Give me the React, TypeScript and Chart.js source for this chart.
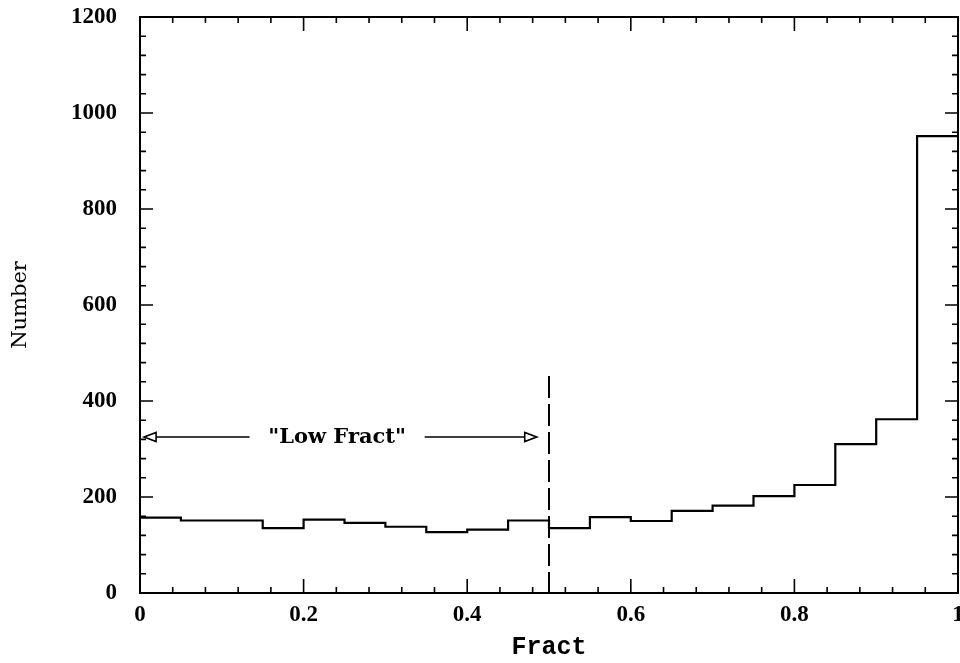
import React, { useEffect, useRef } from 'react';
import { Chart, registerables } from 'chart.js';

Chart.register(...registerables);

// ---- data ----
const binStarts = [0, 0.05, 0.1, 0.15, 0.2, 0.25, 0.3, 0.35, 0.4, 0.45, 0.5, 0.55, 0.6, 0.65, 0.7, 0.75, 0.8, 0.85, 0.9, 0.95];
const binEnd = 1;
const counts = [157, 151, 151, 135, 153, 146, 138, 127, 132, 151, 135, 158, 150, 171, 182, 202, 225, 310, 362, 952];

const xTickLabels = ['0', '0.2', '0.4', '0.6', '0.8', '1'];
const yTickLabels = ['0', '200', '400', '600', '800', '1000', '1200'];

// annotation: dashed cut and "Low Fract" arrow
const cutValue = 0.5;
const cutTop = 452;
const arrowLevel = 325;
const arrowFrom = 0.005;
const arrowTo = 0.485;
const gapFrom = 0.134;
const gapTo = 0.348;
const labelAt = 0.241;
const lowLabel = '"Low Fract"';

const xTitle = 'Fract';
const yTitle = 'Number';

const framePlugin = {
  id: 'frame',
  afterDatasetsDraw(chart: any) {
    const { ctx, chartArea: a, scales } = chart;
    const xs = scales.x;
    const ys = scales.y;
    ctx.save();
    ctx.strokeStyle = '#000';
    ctx.lineWidth = 2;
    ctx.strokeRect(a.left, a.top, a.right - a.left, a.bottom - a.top);
    ctx.lineWidth = 1.6;
    ctx.beginPath();
    xs.ticks.forEach((t: any) => {
      const px = xs.getPixelForValue(t.value);
      const major = t.label !== '';
      const len = major ? 14 : 6;
      ctx.moveTo(px, a.bottom);
      ctx.lineTo(px, a.bottom - len);
      ctx.moveTo(px, a.top);
      ctx.lineTo(px, a.top + len);
    });
    ys.ticks.forEach((t: any) => {
      const py = ys.getPixelForValue(t.value);
      const major = t.label !== '';
      const len = major ? 13 : 6;
      ctx.moveTo(a.left, py);
      ctx.lineTo(a.left + len, py);
      ctx.moveTo(a.right, py);
      ctx.lineTo(a.right - len, py);
    });
    ctx.stroke();

    // arrow annotation
    const y = ys.getPixelForValue(arrowLevel);
    const x0 = xs.getPixelForValue(arrowFrom);
    const x1 = xs.getPixelForValue(arrowTo);
    const g0 = xs.getPixelForValue(gapFrom);
    const g1 = xs.getPixelForValue(gapTo);
    const head = 12;
    const hh = 4.5;
    ctx.lineWidth = 1.6;
    ctx.beginPath();
    ctx.moveTo(x0 + head, y);
    ctx.lineTo(g0, y);
    ctx.moveTo(g1, y);
    ctx.lineTo(x1 - head, y);
    ctx.stroke();
    ctx.fillStyle = '#fff';
    ctx.beginPath();
    ctx.moveTo(x0, y);
    ctx.lineTo(x0 + head, y - hh);
    ctx.lineTo(x0 + head, y + hh);
    ctx.closePath();
    ctx.fill();
    ctx.stroke();
    ctx.beginPath();
    ctx.moveTo(x1, y);
    ctx.lineTo(x1 - head, y - hh);
    ctx.lineTo(x1 - head, y + hh);
    ctx.closePath();
    ctx.fill();
    ctx.stroke();

    ctx.fillStyle = '#000';
    ctx.font = 'bold 21px "DejaVu Serif"';
    ctx.textAlign = 'center';
    ctx.textBaseline = 'middle';
    ctx.fillText(lowLabel, xs.getPixelForValue(labelAt), y + 1);
    ctx.restore();
  },
};

export default function App() {
  const ref = useRef<HTMLCanvasElement | null>(null);

  useEffect(() => {
    if (!ref.current) return;
    const histData = binStarts
      .map((x, i) => ({ x, y: counts[i] }))
      .concat([{ x: binEnd, y: counts[counts.length - 1] }]);

    const chart = new Chart(ref.current, {
      type: 'line',
      data: {
        datasets: [
          {
            data: histData,
            stepped: 'before',
            borderColor: '#000',
            borderWidth: 2.2,
            pointRadius: 0,
            fill: false,
            clip: false as any,
          },
          {
            data: [
              { x: cutValue, y: cutTop },
              { x: cutValue, y: 0 },
            ],
            borderColor: '#000',
            borderWidth: 2,
            borderDash: [22, 6],
            pointRadius: 0,
            fill: false,
          },
        ],
      },
      options: {
        animation: false,
        responsive: false,
        events: [],
        layout: { padding: { left: 0, right: 2, top: 17, bottom: 0 } },
        plugins: {
          legend: { display: false },
          tooltip: { enabled: false },
        },
        scales: {
          x: {
            type: 'linear',
            min: 0,
            max: 1,
            grid: { display: false, drawTicks: false },
            border: { display: false },
            ticks: {
              stepSize: 0.04,
              maxTicksLimit: 100,
              autoSkip: false,
              maxRotation: 0,
              padding: 8,
              color: '#000',
              font: { family: '"Liberation Serif"', size: 23, weight: 'bold' },
              callback: (v: any) => {
                const idx = Math.round(Number(v) * 5);
                return Math.abs(Number(v) * 5 - idx) < 1e-6 ? xTickLabels[idx] : '';
              },
            },
            title: {
              display: true,
              text: xTitle,
              color: '#000',
              font: { family: '"Liberation Mono"', size: 25, weight: 'bold' },
              padding: { top: 0, bottom: 0 },
            },
            afterFit: (s: any) => {
              s.height = 70;
              s.paddingLeft = 0;
              s.paddingRight = 0;
            },
          },
          y: {
            type: 'linear',
            min: 0,
            max: 1200,
            grid: { display: false, drawTicks: false },
            border: { display: false },
            ticks: {
              stepSize: 40,
              maxTicksLimit: 100,
              autoSkip: false,
              padding: 23,
              color: '#000',
              font: { family: '"Liberation Serif"', size: 23, weight: 'bold' },
              callback: (v: any) => {
                const n = Number(v);
                return n % 200 === 0 ? yTickLabels[n / 200] : '';
              },
            },
            title: {
              display: true,
              text: yTitle,
              color: '#000',
              font: { family: '"DejaVu Serif"', size: 21 },
              padding: { top: 8, bottom: 0 },
            },
            afterFit: (s: any) => {
              s.width = 140;
              s.paddingTop = 0;
              s.paddingBottom = 0;
            },
          },
        },
      },
      plugins: [framePlugin],
    });
    return () => chart.destroy();
  }, []);

  return (
    <div style={{ position: 'fixed', left: 0, top: 0, width: 960, height: 663, background: '#fff' }}>
      <canvas ref={ref} width={960} height={663} />
    </div>
  );
}
